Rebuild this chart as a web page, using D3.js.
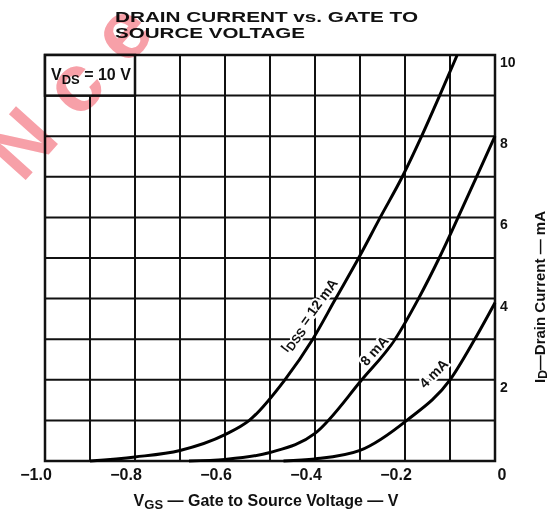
<!DOCTYPE html>
<html><head><meta charset="utf-8">
<script src="https://cdn.jsdelivr.net/npm/d3@7"></script>
<style>
body{margin:0;background:#fff;}
svg{display:block;}
text{font-family:"Liberation Sans",Arial,sans-serif;fill:#111;}
</style></head>
<body>
<svg id="c" width="550" height="518"></svg>
<script>
// ---- data ----
const titleLines = ["DRAIN CURRENT vs. GATE TO", "SOURCE VOLTAGE"];
const xTickValues = [-1.0, -0.8, -0.6, -0.4, -0.2, 0];
const xTickLabels = ["\u22121.0", "\u22120.8", "\u22120.6", "\u22120.4", "\u22120.2", "0"];
const yTickValues = [2, 4, 6, 8, 10];
const yTickLabels = ["2", "4", "6", "8", "10"];
const seriesNames = ["12 mA", "8 mA", "4 mA"];
const idss12 = [[-0.90,0],[-0.8,0.1],[-0.7,0.26],[-0.6,0.65],[-0.546,1],[-0.467,2],[-0.405,3],[-0.354,4],[-0.303,5],[-0.255,6],[-0.206,7],[-0.163,8],[-0.123,9],[-0.084,10]];
const idss8 = [[-0.68,0],[-0.6,0.04],[-0.5,0.21],[-0.4,0.68],[-0.296,2],[-0.222,3],[-0.170,4],[-0.124,5],[-0.082,6],[-0.041,7],[0,8]];
const idss4 = [[-0.47,0],[-0.4,0.05],[-0.3,0.26],[-0.196,1],[-0.1,2],[-0.045,3],[0,3.9]];

// ---- drawing ----
const svg = d3.select("#c");
const x = d3.scaleLinear().domain([-1, 0]).range([45, 495]);
const y = d3.scaleLinear().domain([0, 10]).range([461, 55]);

// title
svg.append("text").attr("x",115).attr("y",22).attr("font-size",15).attr("font-weight","bold")
  .attr("font-family","'DejaVu Sans',sans-serif")
  .attr("textLength",303).attr("lengthAdjust","spacingAndGlyphs").text(titleLines[0]);
svg.append("text").attr("x",115).attr("y",38).attr("font-size",15).attr("font-weight","bold")
  .attr("font-family","'DejaVu Sans',sans-serif")
  .attr("textLength",190).attr("lengthAdjust","spacingAndGlyphs").text(titleLines[1]);

// grid
const g = svg.append("g");
g.selectAll("line.v").data(d3.range(-0.9, -0.05, 0.1)).join("line")
  .attr("x1", d=>x(d)).attr("x2", d=>x(d)).attr("y1", y(10)).attr("y2", y(0))
  .attr("stroke","#111").attr("stroke-width",2);
g.selectAll("line.h").data(d3.range(1, 10, 1)).join("line")
  .attr("x1", x(-1)).attr("x2", x(0)).attr("y1", d=>y(d)).attr("y2", d=>y(d))
  .attr("stroke","#111").attr("stroke-width",2);
g.append("rect").attr("x",x(-1)).attr("y",y(10)).attr("width",x(0)-x(-1)).attr("height",y(0)-y(10))
  .attr("fill","none").attr("stroke","#111").attr("stroke-width",2.5);

// VDS box
g.append("rect").attr("x",x(-1)).attr("y",y(10)).attr("width",x(-0.8)-x(-1)).attr("height",y(9)-y(10))
  .attr("fill","#fff").attr("stroke","#111").attr("stroke-width",2.5);
const vds = g.append("text").attr("x",x(-1)+6).attr("y",y(9)-16).attr("font-size",16).attr("font-weight","bold")
  .attr("font-family","'Liberation Sans Narrow','DejaVu Sans Condensed',sans-serif");
vds.append("tspan").text("V");
vds.append("tspan").attr("font-size",13).attr("dy",4).text("DS");
vds.append("tspan").attr("dy",-4).text(" = 10  V");

// curves
const line = d3.line().x(d=>x(d[0])).y(d=>y(d[1])).curve(d3.curveMonotoneX);
[idss12, idss8, idss4].forEach(s=>{
  svg.append("path").attr("d", line(s)).attr("fill","none").attr("stroke","#000").attr("stroke-width",3);
});

// curve labels
function curveLabel(cx, cy, ang, parts){
  const t = svg.append("text").attr("transform",`translate(${cx},${cy}) rotate(${ang})`)
    .attr("text-anchor","middle").attr("font-size",14).attr("font-weight","bold")
    .attr("stroke","#fff").attr("stroke-width",4).attr("paint-order","stroke");
  parts(t);
}
curveLabel(313, 318, -54, t=>{
  t.append("tspan").text("I");
  t.append("tspan").attr("font-size",12).attr("dy",3).text("DSS");
  t.append("tspan").attr("dy",-3).text(" = 12 mA");
});
curveLabel(378, 354, -48, t=>t.text(seriesNames[1]));
curveLabel(437, 377, -45, t=>t.text(seriesNames[2]));

// x tick labels
svg.selectAll("text.xt").data(xTickValues).join("text")
  .attr("x", (d,i)=> x(d) + (i===5 ? 7 : -9)).attr("y", 480)
  .attr("text-anchor","middle").attr("font-size",16).attr("font-weight","bold")
  .text((d,i)=>xTickLabels[i]);

// y tick labels (right)
svg.selectAll("text.yt").data(yTickValues).join("text")
  .attr("x", 500).attr("y", d=>y(d)+12)
  .attr("font-size",14).attr("font-weight","bold")
  .text((d,i)=>yTickLabels[i]);

// axis titles
const xt = svg.append("text").attr("x",266).attr("y",506).attr("text-anchor","middle")
  .attr("font-size",16).attr("font-weight","bold");
xt.append("tspan").text("V");
xt.append("tspan").attr("font-size",13).attr("dy",3).text("GS");
xt.append("tspan").attr("dy",-3).text(" \u2014 Gate to Source Voltage \u2014 V");

const yt = svg.append("text").attr("transform","translate(545,297) rotate(-90)").attr("text-anchor","middle")
  .attr("font-size",15).attr("font-weight","bold");
yt.append("tspan").text("I");
yt.append("tspan").attr("font-size",12).attr("dy",2).text("D");
yt.append("tspan").attr("dy",-2).text("\u2014Drain Current \u2014 mA");

// watermark
svg.append("text").attr("transform","translate(22,184) rotate(-48)")
  .attr("font-size",82).attr("font-weight","bold").style("fill","#f7a0a8")
  .style("mix-blend-mode","multiply").attr("letter-spacing",26).text("Nce");
</script>
</body></html>
